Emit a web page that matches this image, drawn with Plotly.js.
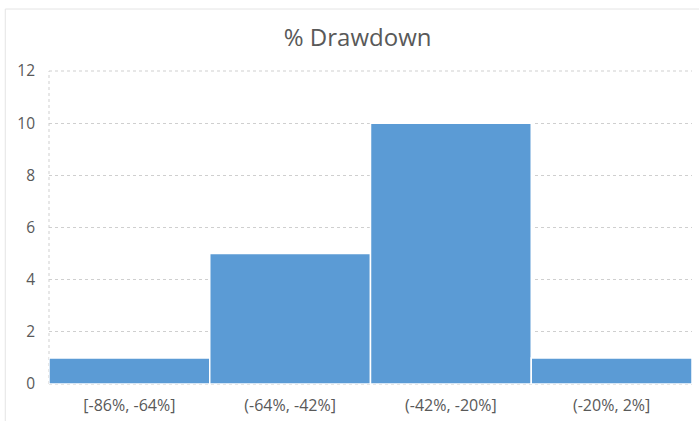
<!DOCTYPE html>
<html>
<head>
<meta charset="utf-8">
<script src="https://cdn.plot.ly/plotly-3.0.1.min.js"></script>
<style>html,body{margin:0;padding:0;background:#fff;}#chart{width:699px;height:421px;}</style>
</head>
<body>
<div id="chart"></div>
<script>
const categories = ["[-86%, -64%]", "(-64%, -42%]", "(-42%, -20%]", "(-20%, 2%]"];
const counts = [1, 5, 10, 1];
const yTicks = [0, 2, 4, 6, 8, 10, 12];

const trace = {
  type: 'bar',
  x: categories,
  y: counts,
  marker: {color: '#5B9BD5', line: {color: '#ffffff', width: 1.5}},
  hoverinfo: 'x+y'
};

const layout = {
  width: 699, height: 421,
  margin: {l: 49, r: 7, t: 71, b: 37},
  paper_bgcolor: '#ffffff', plot_bgcolor: '#ffffff',
  bargap: 0,
  showlegend: false,
  font: {family: 'Open Sans, sans-serif', color: '#595959'},
  title: {text: '% Drawdown', font: {size: 24, color: '#595959', family: 'Open Sans, sans-serif'}, x: 0.48, xref: 'paper', xanchor: 'center', y: 0.91, yanchor: 'middle'},
  xaxis: {
    showgrid: false, zeroline: false, showline: false,
    tickfont: {size: 16, color: '#595959'}, ticks: '', ticklen: 0,
    ticklabelstandoff: 10
  },
  yaxis: {
    range: [0, 12], tickvals: yTicks, showgrid: true,
    gridcolor: '#cfcfcf', griddash: 'dot', gridwidth: 1,
    zeroline: false, showline: false,
    tickfont: {size: 15.5, color: '#595959'}, ticks: '', ticklen: 0,
    ticklabelstandoff: 13
  },
  shapes: [
    {type: 'line', xref: 'paper', yref: 'paper', x0: 0, x1: 0, y0: 0, y1: 1, line: {color: '#cfcfcf', width: 1, dash: 'dot'}, layer: 'below'},
    {type: 'line', xref: 'paper', yref: 'paper', x0: 0, x1: 1, y0: 0, y1: 0, line: {color: '#cfcfcf', width: 1, dash: 'dot'}, layer: 'below'},
    {type: 'line', xref: 'paper', yref: 'paper', x0: 0, x1: 1, y0: 1, y1: 1, line: {color: '#cfcfcf', width: 1, dash: 'dot'}, layer: 'below'},
    {type: 'rect', xref: 'paper', yref: 'paper', x0: -0.068, x1: 1.05, y0: -0.2, y1: 1.198, line: {color: '#e4e4e4', width: 1}, fillcolor: 'rgba(0,0,0,0)', layer: 'below'}
  ]
};

Plotly.newPlot('chart', [trace], layout, {displayModeBar: false, staticPlot: true});
</script>
</body>
</html>
